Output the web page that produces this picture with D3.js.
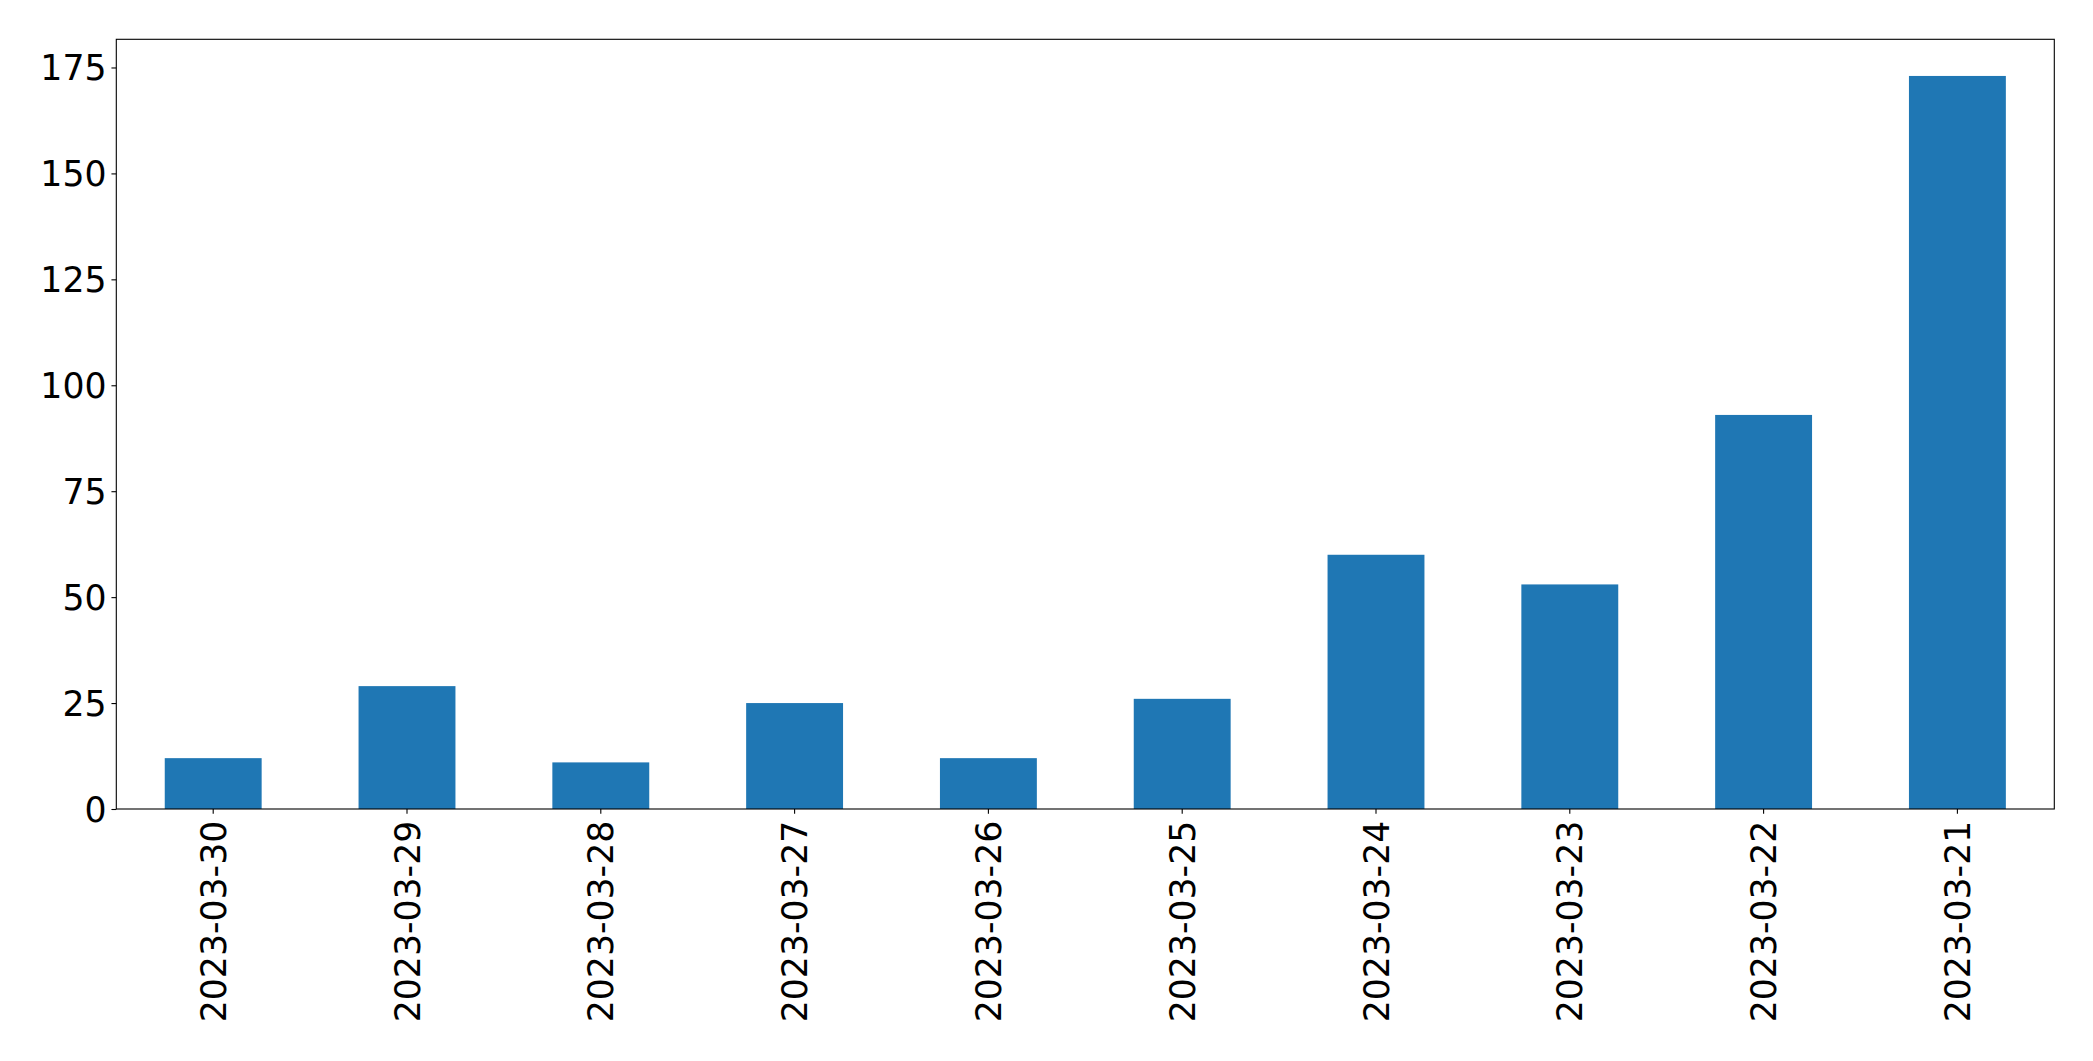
<!DOCTYPE html>
<html>
<head>
<meta charset="utf-8">
<script src="https://cdn.jsdelivr.net/npm/d3@7"></script>
<style>
    body { margin: 0; background: #fff; }
    text { font-family: "DejaVu Sans", sans-serif; }
</style>
</head>
<body>
<div id="chart"></div>
<script>
const dates = ["2023-03-30", "2023-03-29", "2023-03-28", "2023-03-27", "2023-03-26",
               "2023-03-25", "2023-03-24", "2023-03-23", "2023-03-22", "2023-03-21"];
const counts = [12, 29, 11, 25, 12, 26, 60, 53, 93, 173];
const yTicks = [0, 25, 50, 75, 100, 125, 150, 175];

const W = 2093, H = 1061;
const margin = { top: 39.3, right: 2093 - 2054.3, bottom: 1061 - 809, left: 116.3 };
const width = W - margin.left - margin.right,
      height = H - margin.top - margin.bottom;
const fontSize = 34.7, tickLen = 4.86, pad = 4.86;

let svg = d3.select("#chart").append("svg")
    .attr("width", W)
    .attr("height", H);

let g = svg.append("g")
    .attr("transform", "translate(" + margin.left + "," + margin.top + ")");

let x = d3.scaleBand().domain(dates).range([0, width]).paddingInner(0.5).paddingOuter(0.25);
let y = d3.scaleLinear().domain([0, d3.max(counts) * 1.05]).range([height, 0]);

let data = dates.map((d, i) => ({ date: d, value: counts[i] }));

g.selectAll("rect.bar")
    .data(data)
    .enter().append("rect")
    .attr("class", "bar")
    .attr("x", d => x(d.date))
    .attr("y", d => y(d.value))
    .attr("width", x.bandwidth())
    .attr("height", d => y(0) - y(d.value))
    .attr("fill", "#1f77b4");

// y axis
let yAxis = g.append("g")
    .call(d3.axisLeft(y).tickValues(yTicks).tickSize(tickLen).tickPadding(pad).tickFormat(d3.format("d")));
yAxis.select(".domain").remove();
yAxis.selectAll("line").attr("stroke", "#000").attr("stroke-width", 1.1);
yAxis.selectAll("text")
    .attr("fill", "#000")
    .style("font-size", fontSize + "px")
    .attr("dy", "0.35em");

// x axis
let xAxis = g.append("g")
    .attr("transform", "translate(0," + height + ")")
    .call(d3.axisBottom(x).tickSize(tickLen).tickPadding(pad));
xAxis.select(".domain").remove();
xAxis.selectAll("line").attr("stroke", "#000").attr("stroke-width", 1.1);
xAxis.selectAll("text")
    .attr("fill", "#000")
    .style("font-size", fontSize + "px")
    .attr("y", 0)
    .attr("dy", "0.36em")
    .attr("text-anchor", "end")
    .attr("transform", "translate(0," + (tickLen + pad + 2) + ") rotate(-90)");

// frame
g.append("rect")
    .attr("x", 0)
    .attr("y", 0)
    .attr("width", width)
    .attr("height", height)
    .attr("fill", "none")
    .attr("stroke", "#000")
    .attr("stroke-width", 1.1);
</script>
</body>
</html>
